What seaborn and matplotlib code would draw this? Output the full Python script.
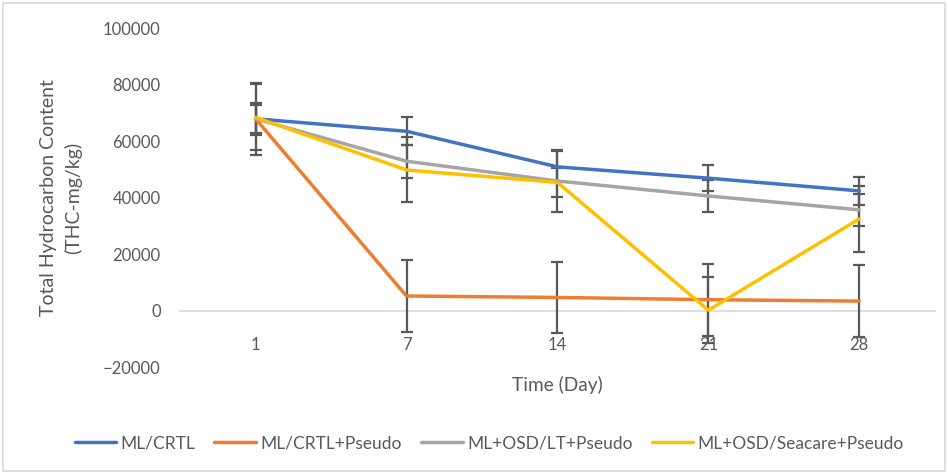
"""
Total Hydrocarbon Content over time for four treatments, with error bars.
"""

import numpy as np
import pandas as pd
import seaborn as sns
import matplotlib.pyplot as plt
from matplotlib.patches import Rectangle

# data
days = ["1", "7", "14", "21", "28"]
treatments = ["ML/CRTL", "ML/CRTL+Pseudo", "ML+OSD/LT+Pseudo", "ML+OSD/Seacare+Pseudo"]
thc_ctrl = [68000, 63600, 51000, 47000, 42500]
thc_ctrl_pseudo = [68000, 5300, 4800, 4000, 3500]
thc_lt_pseudo = [68000, 53000, 46000, 40700, 35800]
thc_seacare_pseudo = [68500, 49900, 45500, 300, 32600]
err_ctrl = [5000, 5000, 5500, 4700, 4900]
err_ctrl_pseudo = [12700, 12700, 12700, 12700, 12700]
err_lt_pseudo = [5600, 5800, 11000, 5700, 5600]
err_seacare_pseudo = [11700, 11500, 5200, 11700, 11700]

colors = ["#4472C4", "#ED7D31", "#A5A5A5", "#FFC000"]
text_color = "#595959"

series = [thc_ctrl, thc_ctrl_pseudo, thc_lt_pseudo, thc_seacare_pseudo]
errors = [err_ctrl, err_ctrl_pseudo, err_lt_pseudo, err_seacare_pseudo]

df = pd.DataFrame({
    "pos": np.tile(np.arange(len(days)), len(treatments)),
    "THC": np.concatenate(series),
    "err": np.concatenate(errors),
    "Treatment": np.repeat(treatments, len(days)),
})

sns.set_theme(style="white")
plt.rcParams["font.family"] = ["Lato", "DejaVu Sans"]

fig = plt.figure(figsize=(9.48, 4.73), dpi=100)
ax = fig.add_axes([0.190, 0.223, 0.796, 0.717])

# error bars first, lines on top
for name in treatments:
    sub = df[df["Treatment"] == name]
    ax.errorbar(sub["pos"], sub["THC"], yerr=sub["err"], fmt="none",
                ecolor=text_color, elinewidth=1.6, capsize=4.2, capthick=1.6,
                zorder=2)

sns.lineplot(data=df, x="pos", y="THC", hue="Treatment", hue_order=treatments,
             palette=colors, linewidth=2.5, ax=ax, zorder=3, legend=True)

ax.set_xlim(-0.5, 4.5)
ax.set_ylim(-20000, 100000)
ax.set_yticks(np.arange(-20000, 100001, 20000))
ax.set_xticks(np.arange(len(days)), days)

for s in ["top", "right", "left"]:
    ax.spines[s].set_visible(False)
ax.spines["bottom"].set_position(("data", 0))
ax.spines["bottom"].set_color("#D9D9D9")
ax.spines["bottom"].set_linewidth(1.2)
ax.spines["bottom"].set_zorder(1)

ax.tick_params(axis="y", length=0, pad=14, labelsize=12, labelcolor=text_color)
ax.tick_params(axis="x", length=0, pad=19, labelsize=12, labelcolor=text_color)

ax.set_xlabel("Time (Day)", fontsize=13.8, color=text_color, va="center")
ax.xaxis.set_label_coords(0.5, -0.052)
ax.set_ylabel("Total Hydrocarbon Content\n(THC-mg/kg)", fontsize=14,
              color=text_color, linespacing=1.45, va="center")
ax.yaxis.set_label_coords(-0.158, 0.5)

handles, labels = ax.get_legend_handles_labels()
ax.get_legend().remove()
fig.legend(handles, labels, loc="center", bbox_to_anchor=(0.516, 0.063),
           ncol=4, frameon=False, fontsize=12.5, labelcolor=text_color,
           handlelength=2.4, handletextpad=0.25, columnspacing=1.1)

fig.add_artist(Rectangle((0.003, 0.004), 0.994, 0.99, transform=fig.transFigure,
                         fill=False, edgecolor="#D9D9D9", linewidth=1.2))

fig.savefig("out.png", dpi=100)
